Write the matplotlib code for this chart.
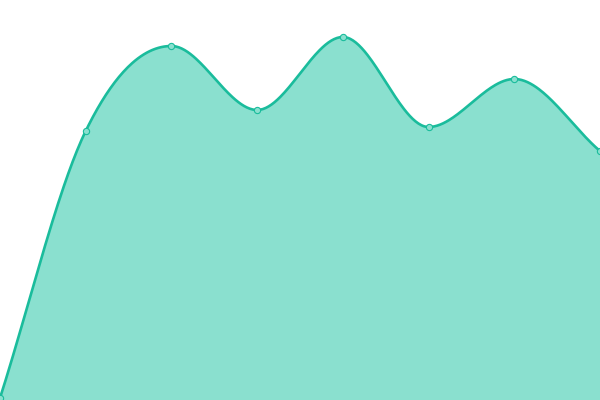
import numpy as np
import matplotlib
matplotlib.use("Agg")
import matplotlib.pyplot as plt

# series values (axis runs 0..400 bottom to top)
x_vals = [0, 1, 2, 3, 4, 5, 6, 7]
y_vals = [2, 269, 354, 290, 363, 273, 321, 249]

line_color = "#1abc9c"
fill_color = "#8ae0cf"


# monotone cubic interpolation (Fritsch-Carlson, secant slopes at the ends)
def monotone_curve(xs, ys, n=60):
    xs = np.asarray(xs, dtype=float)
    ys = np.asarray(ys, dtype=float)
    h = np.diff(xs)
    d = np.diff(ys) / h
    m = np.zeros_like(ys)
    m[0] = d[0]
    m[-1] = d[-1]
    for i in range(1, len(xs) - 1):
        if d[i - 1] == 0 or d[i] == 0 or np.sign(d[i - 1]) != np.sign(d[i]):
            m[i] = 0
        else:
            m[i] = (d[i - 1] + d[i]) / 2
    for i in range(len(xs) - 1):
        if d[i] == 0:
            m[i] = m[i + 1] = 0
            continue
        a = m[i] / d[i]
        b = m[i + 1] / d[i]
        sq = a * a + b * b
        if sq > 9:
            tau = 3 / np.sqrt(sq)
            m[i] = tau * a * d[i]
            m[i + 1] = tau * b * d[i]

    xx, yy = [], []
    for i in range(len(xs) - 1):
        u = np.linspace(0, 1, n)
        dx = h[i] / 3
        p0 = (xs[i], ys[i])
        p1 = (xs[i] + dx, ys[i] + dx * m[i])
        p2 = (xs[i + 1] - dx, ys[i + 1] - dx * m[i + 1])
        p3 = (xs[i + 1], ys[i + 1])
        bx = (1 - u)**3 * p0[0] + 3 * (1 - u)**2 * u * p1[0] + 3 * (1 - u) * u**2 * p2[0] + u**3 * p3[0]
        by = (1 - u)**3 * p0[1] + 3 * (1 - u)**2 * u * p1[1] + 3 * (1 - u) * u**2 * p2[1] + u**3 * p3[1]
        xx.extend(bx)
        yy.extend(by)
    return np.array(xx), np.array(yy)


cx, cy = monotone_curve(x_vals, y_vals)

fig = plt.figure(figsize=(6, 4), dpi=100)
ax = fig.add_axes([0, 0, 1, 1])

ax.fill_between(cx, 0, cy, color=fill_color, linewidth=0)
ax.plot(cx, cy, color=line_color, linewidth=1.9, solid_capstyle="round")
ax.plot(x_vals, y_vals, linestyle="none", marker="o", markersize=4.5,
        markerfacecolor=fill_color, markeredgecolor=line_color, markeredgewidth=0.8)

ax.set_xlim(0, 7)
ax.set_ylim(0, 400)
ax.axis("off")

fig.savefig("out.png", dpi=100)
